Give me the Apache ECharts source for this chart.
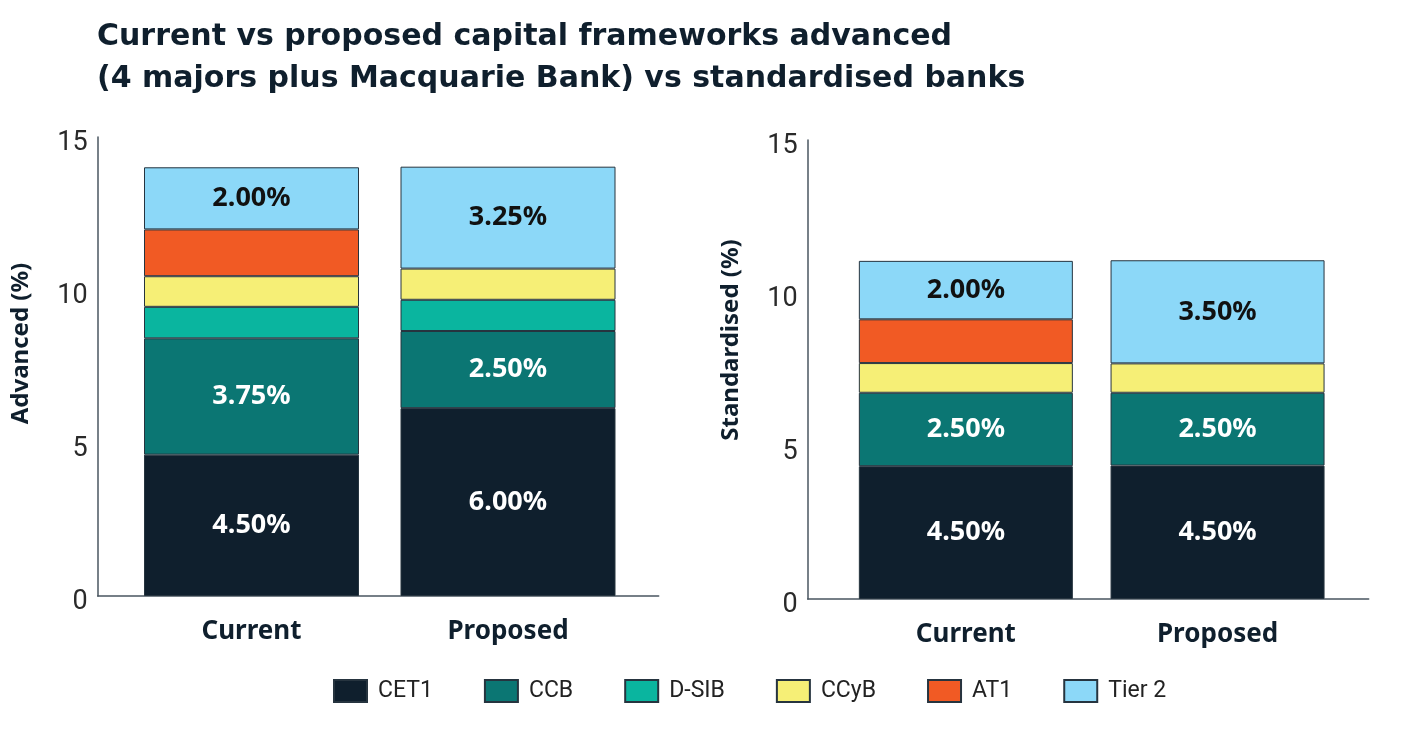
<!DOCTYPE html>
<html>
<head>
<meta charset="utf-8">
<style>
  html, body { margin: 0; padding: 0; background: #fff; }
  #chart { width: 1420px; height: 735px; }
</style>
<script src="https://cdn.jsdelivr.net/npm/echarts@6/dist/echarts.min.js"></script>
</head>
<body>
<div id="chart"></div>
<script>
// categories and segment names
const categories = ['Current', 'Proposed']
const segments = ['CET1', 'CCB', 'D-SIB', 'CCyB', 'AT1', 'Tier 2']
const colors = ['#0f1f2d', '#0b7673', '#0ab59f', '#f6ef76', '#f15a24', '#8cd8f8']

// bar heights (%), order: Current, Proposed
const advCET1 = [4.62, 6.14]
const advCCB = [3.80, 2.52]
const advDSIB = [1.03, 1.02]
const advCCyB = [1.00, 1.02]
const advAT1 = [1.53, null]
const advTier2 = [2.03, 3.33]

const stdCET1 = [4.34, 4.36]
const stdCCB = [2.40, 2.38]
const stdDSIB = [null, null]
const stdCCyB = [0.97, 0.96]
const stdAT1 = [1.43, null]
const stdTier2 = [1.91, 3.37]

// printed labels on the bars
const advLabels = { 'CET1': ['4.50%', '6.00%'], 'CCB': ['3.75%', '2.50%'], 'Tier 2': ['2.00%', '3.25%'] }
const stdLabels = { 'CET1': ['4.50%', '4.50%'], 'CCB': ['2.50%', '2.50%'], 'Tier 2': ['2.00%', '3.50%'] }

const yTicks = { min: 0, max: 15, interval: 5 }

const advData = [advCET1, advCCB, advDSIB, advCCyB, advAT1, advTier2]
const stdData = [stdCET1, stdCCB, stdDSIB, stdCCyB, stdAT1, stdTier2]

const textDark = '#0f1f2d'
const axisColor = '#4a5660'
const font = 'Noto Sans'

function outerX (gridIndex) {
  return {
    gridIndex: gridIndex,
    type: 'value',
    min: 0,
    max: 1,
    axisLine: { show: true, lineStyle: { color: axisColor, width: 1.5 } },
    axisTick: { show: false },
    axisLabel: { show: false },
    splitLine: { show: false }
  }
}

function innerX (gridIndex) {
  return {
    gridIndex: gridIndex,
    type: 'category',
    data: categories,
    axisLine: { show: false },
    axisTick: { show: false },
    axisLabel: {
      margin: 23,
      fontFamily: font,
      fontSize: 26,
      fontWeight: 'bold',
      color: textDark
    }
  }
}

function outerY (gridIndex, name, pad) {
  return {
    gridIndex: gridIndex,
    type: 'value',
    min: yTicks.min,
    max: yTicks.max,
    interval: yTicks.interval,
    name: name,
    nameLocation: 'middle',
    nameGap: 65,
    nameTextStyle: {
      fontFamily: font,
      fontSize: 24,
      fontWeight: 'bold',
      color: textDark,
      padding: [0, 0, 0, pad]
    },
    axisLine: { show: true, lineStyle: { color: axisColor, width: 1.5 } },
    axisTick: { show: false },
    axisLabel: {
      margin: 10,
      formatter: (v) => '{t|' + v + '}',
      rich: {
        t: { fontFamily: 'Roboto', fontSize: 27, color: '#2a2a2a', padding: [12, 0, 0, 0] }
      }
    },
    splitLine: { show: false }
  }
}

function innerY (gridIndex) {
  return { gridIndex: gridIndex, type: 'value', min: yTicks.min, max: yTicks.max, show: false }
}

function makeSeries (data, labels, axisIndex, stack, width) {
  return segments.map((name, i) => {
    const lbl = labels[name]
    return {
      name: name,
      type: 'bar',
      stack: stack,
      xAxisIndex: axisIndex,
      yAxisIndex: axisIndex,
      barWidth: width,
      data: data[i],
      itemStyle: { color: colors[i], borderColor: '#26343f', borderWidth: 1 },
      label: {
        show: !!lbl,
        position: 'inside',
        fontFamily: font,
        fontSize: 27,
        fontWeight: 'bold',
        color: name === 'Tier 2' ? '#111111' : '#ffffff',
        formatter: (p) => (lbl ? lbl[p.dataIndex] : '')
      },
      emphasis: { disabled: true }
    }
  })
}

const myChart = echarts.init(document.getElementById('chart'))
myChart.setOption({
  animation: false,
  title: {
    text: 'Current vs proposed capital frameworks advanced\n(4 majors plus Macquarie Bank) vs standardised banks',
    left: 97,
    top: 16,
    padding: 0,
    textStyle: { fontFamily: 'DejaVu Sans', fontSize: 30, fontWeight: 'bold', lineHeight: 42, color: textDark }
  },
  legend: {
    data: segments,
    left: 333,
    top: 679,
    padding: 0,
    icon: 'rect',
    itemWidth: 33,
    itemHeight: 22,
    itemGap: 51,
    textStyle: { fontFamily: 'Roboto', fontSize: 23, color: '#222222', padding: [0, 0, 0, 6] },
    selectedMode: false
  },
  grid: [
    { left: 97.7, top: 137, width: 561, height: 459 },
    { left: 123.25, top: 137, width: 513, height: 459 },
    { left: 807.7, top: 140, width: 561, height: 459 },
    { left: 840, top: 140, width: 503.4, height: 459 }
  ],
  xAxis: [outerX(0), innerX(1), outerX(2), innerX(3)],
  yAxis: [
    outerY(0, 'Advanced (%)', 46),
    innerY(1),
    outerY(2, 'Standardised (%)', 59),
    innerY(3)
  ],
  series: [].concat(
    makeSeries(advData, advLabels, 1, 'adv', 215),
    makeSeries(stdData, stdLabels, 3, 'std', 214)
  )
})
</script>
</body>
</html>
